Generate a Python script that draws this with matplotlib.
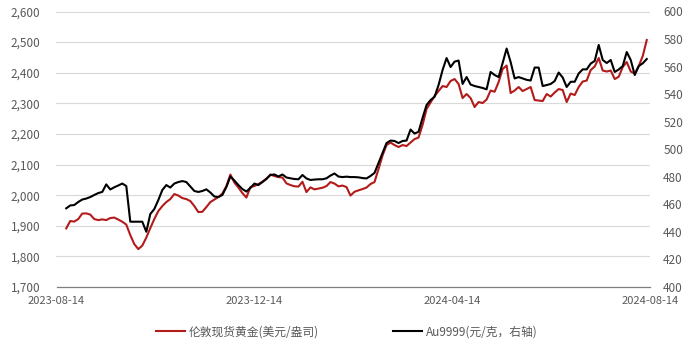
import matplotlib
matplotlib.use('Agg')
import matplotlib.pyplot as plt
import matplotlib.dates as mdates
from matplotlib.ticker import FuncFormatter
import numpy as np
import pandas as pd

plt.rcParams['font.family'] = ['Noto Sans CJK SC', 'DejaVu Sans']

# London spot gold, USD/oz (left axis)
london_gold = [
    1891.5, 1915.4, 1913.7, 1921.9, 1939.9, 1940.5, 1936.6, 1921.9, 1918.6, 1920.9,
    1918.6, 1925.2, 1926.8, 1920.3, 1913.1, 1903.9, 1869.6, 1840.2, 1823.8, 1835.3,
    1861.4, 1892.5, 1921.9, 1948.0, 1964.4, 1977.5, 1987.2, 2003.6, 1998.7, 1990.5,
    1987.2, 1980.7, 1964.4, 1944.8, 1945.7, 1961.1, 1977.5, 1985.6, 1993.8, 2005.2,
    2029.7, 2067.3, 2041.2, 2024.8, 2006.9, 1992.2, 2026.5, 2029.7, 2036.3, 2043.8,
    2054.2, 2067.3, 2062.4, 2059.1, 2057.5, 2038.6, 2033.0, 2029.1, 2028.1, 2043.8,
    2010.1, 2025.5, 2018.9, 2021.6, 2024.2, 2029.7, 2042.8, 2037.9, 2028.8, 2031.4,
    2026.5, 1998.7, 2011.1, 2015.7, 2019.9, 2024.8, 2036.3, 2042.8, 2085.3, 2129.4,
    2163.7, 2171.9, 2163.7, 2157.2, 2163.7, 2160.5, 2171.9, 2183.3, 2188.2, 2229.1,
    2281.4, 2302.6, 2323.9, 2340.2, 2356.5, 2353.3, 2372.9, 2379.4, 2363.1, 2317.3,
    2330.4, 2317.3, 2287.9, 2304.2, 2301.0, 2312.4, 2341.8, 2337.9, 2369.6, 2412.1,
    2423.5, 2333.7, 2341.8, 2353.3, 2340.2, 2346.7, 2353.3, 2310.8, 2309.1, 2307.5,
    2330.4, 2322.2, 2335.3, 2346.7, 2343.5, 2304.2, 2332.0, 2327.1, 2353.3, 2371.2,
    2374.5, 2408.8, 2420.3, 2448.0, 2407.2, 2403.9, 2407.2, 2379.4, 2386.9, 2418.6,
    2435.0, 2403.9, 2397.4, 2421.9, 2454.6, 2506.9,
]

# Au9999, CNY/g (right axis)
au9999 = [
    457.1, 459.2, 459.5, 461.7, 463.5, 464.2, 465.3, 466.8, 468.2, 469.0,
    474.5, 470.8, 472.4, 473.7, 475.1, 473.3, 447.4, 447.4, 447.4, 447.4,
    440.1, 453.0, 456.6, 463.1, 470.4, 474.0, 472.2, 475.1, 476.2, 476.9,
    476.2, 472.9, 469.7, 469.0, 469.7, 470.9, 468.6, 465.7, 465.3, 466.8,
    472.6, 480.2, 477.3, 474.0, 471.1, 469.3, 471.9, 475.1, 474.0, 476.2,
    478.4, 481.3, 481.7, 480.2, 481.7, 479.5, 478.9, 478.4, 478.2, 481.3,
    478.8, 477.7, 478.0, 478.2, 478.2, 478.9, 480.9, 482.4, 480.2, 479.8,
    480.1, 479.8, 479.8, 479.6, 479.1, 478.8, 480.6, 482.8, 490.0, 497.3,
    504.5, 506.3, 506.0, 504.5, 506.0, 506.3, 514.3, 511.4, 512.7, 522.7,
    532.1, 535.7, 538.1, 546.6, 557.5, 566.2, 559.7, 563.6, 564.4, 547.4,
    552.4, 547.0, 545.9, 545.2, 544.5, 543.5, 556.1, 553.9, 552.4, 562.6,
    573.1, 563.3, 551.4, 552.4, 551.4, 550.4, 549.9, 559.3, 559.3, 545.9,
    546.6, 547.4, 549.5, 555.7, 552.1, 545.2, 549.0, 549.0, 555.0, 558.0,
    558.0, 562.2, 564.1, 575.7, 564.8, 562.6, 564.8, 556.1, 557.9, 560.4,
    570.6, 564.8, 553.9, 560.4, 562.4, 565.5,
]

dates = pd.date_range('2023-08-20', '2024-08-12', periods=len(london_gold))
x_ticks = ['2023-08-14', '2023-12-14', '2024-04-14', '2024-08-14']
labels = ['伦敦现货黄金(美元/盎司)', 'Au9999(元/克，右轴)']

red = '#B31B1B'
text_color = '#595959'

fig = plt.figure(figsize=(6.92, 3.47), dpi=100)
ax = fig.add_axes([56.5 / 692, 1 - 287 / 347, (650 - 56.5) / 692, (287 - 11.5) / 347])
ax2 = ax.twinx()

l1, = ax.plot(dates, london_gold, color=red, lw=1.5, label=labels[0])
l2, = ax2.plot(dates, au9999, color='black', lw=1.5, label=labels[1])

ax.set_ylim(1700, 2600)
ax.set_yticks(np.arange(1700, 2601, 100))
ax.yaxis.set_major_formatter(FuncFormatter(lambda v, p: f'{v:,.0f}'))
ax2.set_ylim(400, 600)
ax2.set_yticks(np.arange(400, 601, 20))

tick_dates = pd.to_datetime(x_ticks)
ax.set_xlim(tick_dates[0], tick_dates[-1])
ax.set_xticks(tick_dates)
ax.xaxis.set_major_formatter(mdates.DateFormatter('%Y-%m-%d'))

ax.grid(axis='y', color='#d9d9d9', lw=0.8)
ax.set_axisbelow(True)

for a in (ax, ax2):
    for s in a.spines.values():
        s.set_visible(False)
ax.spines['bottom'].set_visible(True)
ax.spines['bottom'].set_color('#7f7f7f')
ax.spines['bottom'].set_linewidth(0.9)

ax.tick_params(axis='y', length=0, pad=11.5, labelsize=8.5, labelcolor=text_color)
ax2.tick_params(axis='y', length=0, pad=9.5, labelsize=8.5, labelcolor=text_color)
ax.tick_params(axis='x', length=0, pad=6.5, labelsize=8, labelcolor=text_color)

fig.legend([l1, l2], labels, loc='center', bbox_to_anchor=(347 / 692, 1 - 332 / 347),
           ncol=2, frameon=False, fontsize=8.5, handlelength=2.4,
           handletextpad=0.35, columnspacing=6.3, labelcolor=text_color)

fig.savefig('out.png', dpi=100)
